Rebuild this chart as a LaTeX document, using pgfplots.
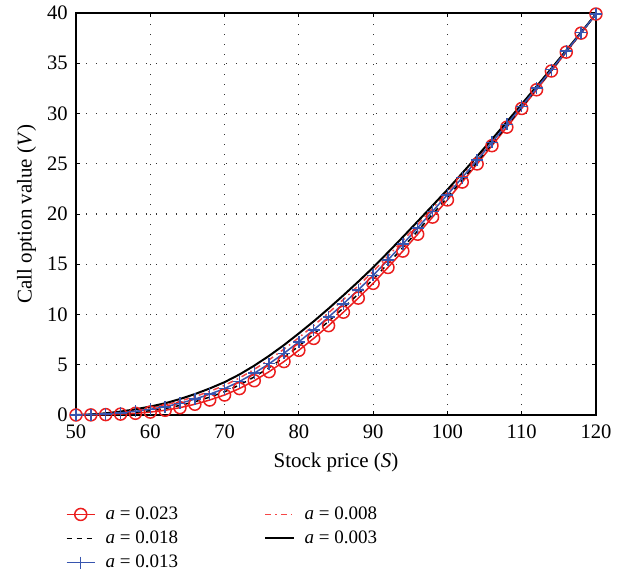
\documentclass[border=0pt]{standalone}
\usepackage{pgfplots}
\pgfplotsset{compat=1.18}
\usepackage{fontspec}
\setmainfont{Liberation Serif}
\definecolor{cred}{RGB}{235,30,30}
\definecolor{cpink}{RGB}{245,70,70}
\definecolor{cblue}{RGB}{55,85,175}
\pgfplotstableread{
x R D B P K
50 0.00 0.00 0.00 0.00 0.00
52 0.01 0.02 0.04 0.05 0.06
54 0.04 0.07 0.11 0.14 0.17
56 0.09 0.15 0.22 0.28 0.34
58 0.17 0.27 0.37 0.47 0.57
60 0.29 0.43 0.57 0.70 0.84
62 0.47 0.65 0.82 1.00 1.17
64 0.73 0.95 1.16 1.38 1.59
66 1.07 1.32 1.58 1.83 2.08
68 1.49 1.78 2.07 2.35 2.64
70 1.99 2.31 2.63 2.95 3.27
72 2.63 2.98 3.33 3.68 4.03
74 3.41 3.79 4.16 4.54 4.91
76 4.31 4.71 5.10 5.50 5.89
78 5.32 5.73 6.14 6.55 6.96
80 6.44 6.86 7.28 7.70 8.12
82 7.62 8.05 8.47 8.90 9.32
84 8.89 9.32 9.74 10.17 10.59
86 10.23 10.65 11.07 11.49 11.91
88 11.63 12.04 12.45 12.86 13.27
90 13.10 13.50 13.89 14.29 14.68
92 14.68 15.06 15.43 15.81 16.18
94 16.31 16.66 17.01 17.36 17.71
96 17.99 18.31 18.63 18.95 19.27
98 19.69 19.98 20.27 20.55 20.84
100 21.40 21.66 21.91 22.17 22.42
102 23.18 23.40 23.63 23.85 24.07
104 24.98 25.17 25.36 25.55 25.74
106 26.80 26.96 27.12 27.28 27.44
108 28.64 28.77 28.91 29.04 29.17
110 30.50 30.61 30.72 30.82 30.93
112 32.36 32.45 32.53 32.62 32.70
114 34.23 34.29 34.36 34.42 34.48
116 36.11 36.15 36.20 36.24 36.28
118 38.00 38.02 38.04 38.06 38.08
120 39.90 39.90 39.90 39.90 39.90
}\datatable
\begin{document}
\begin{tikzpicture}
\useasboundingbox (-38pt,-82.5pt) rectangle (273pt,207.5pt);
\begin{axis}[
  scale only axis,
  width=260pt, height=201pt,
  xmin=50, xmax=120, ymin=0, ymax=40,
  xtick={50,60,...,120}, ytick={0,5,...,40},
  /pgf/number format/assume math mode=true,
  tick align=inside, tick pos=both,
  major tick length=2.2pt,
  axis line style={line width=0.8pt, black},
  tick style={black, line width=0.5pt},
  grid=major,
  major grid style={black!80, line width=0.6pt, dash pattern=on 0.7pt off 4.3pt},
  tick label style={font=\fontsize{10.3}{12}\selectfont},
  xticklabel style={yshift=-1.2pt},
  yticklabel style={xshift=-0.6pt},
  label style={font=\fontsize{10.5}{12}\selectfont},
  xlabel={Stock price (\textit{S})},
  ylabel={Call option value (\textit{V})},
  xlabel style={at={(axis description cs:0.5,-0.119)}, anchor=center},
  ylabel style={at={(axis description cs:-0.095,0.5)}, anchor=center},
  legend columns=2,
  legend cell align=left,
  legend style={draw=none, fill=none,
    at={(axis description cs:-0.032,-0.207)}, anchor=north west,
    font=\fontsize{9.5}{11}\selectfont,
    row sep=0.2pt,
    /tikz/every odd column/.append style={column sep=3pt},
    /tikz/every even column/.append style={column sep=41pt}},
  legend image code/.code={\draw[mark repeat=2,mark phase=2] plot coordinates {(0cm,0cm) (0.25cm,0cm) (0.5cm,0cm)};},
]
\addplot[cred, line width=0.75pt, mark=o, mark size=3pt, mark options={solid, line width=0.75pt}] table[x=x,y=R] {\datatable};
\addlegendentry{\textit{a} = 0.023}
\addplot[cpink, line width=0.75pt, dash pattern=on 3pt off 2pt on 0.8pt off 2pt] table[x=x,y=P] {\datatable};
\addlegendentry{\textit{a} = 0.008}
\addplot[black, line width=0.75pt, dash pattern=on 2.5pt off 2.5pt] table[x=x,y=D] {\datatable};
\addlegendentry{\textit{a} = 0.018}
\addplot[black, line width=1pt] table[x=x,y=K] {\datatable};
\addlegendentry{\textit{a} = 0.003}
\addplot[cblue, line width=0.75pt, mark=+, mark size=3pt, mark options={solid, line width=0.75pt}] table[x=x,y=B] {\datatable};
\addlegendentry{\textit{a} = 0.013}
\end{axis}
\end{tikzpicture}
\end{document}
